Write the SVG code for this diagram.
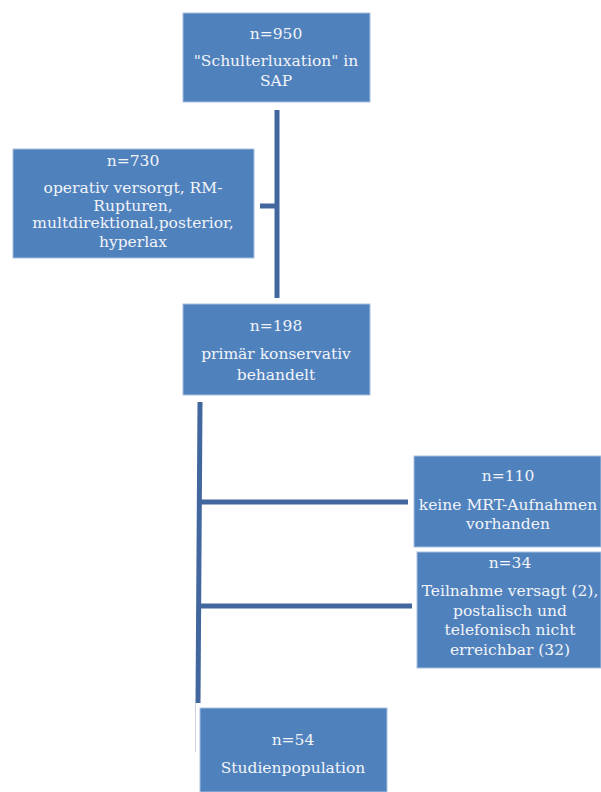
<svg xmlns="http://www.w3.org/2000/svg" width="601" height="792" viewBox="0 0 601 792">
<style>
.box{fill:#4F81BD;stroke:#A9C0DF;stroke-width:1}
.t{font-family:"DejaVu Serif","Liberation Serif",serif;font-size:15.5px;fill:#F2F4F8;text-anchor:middle}
.ln{stroke:#41679E;stroke-width:5;fill:none}
</style>
<rect width="601" height="792" fill="#fff"/>
<g id="connectors">
<line class="ln" x1="277" y1="110" x2="277" y2="298"/>
<line class="ln" x1="260" y1="206" x2="277" y2="206"/>
<line class="ln" x1="200" y1="402" x2="198" y2="703"/>
<line x1="195.5" y1="703" x2="195.5" y2="752" stroke="#C9D5E6" stroke-width="1"/>
<line class="ln" x1="200" y1="502" x2="408" y2="502"/>
<line class="ln" x1="200" y1="606" x2="412" y2="606"/>
</g>
<g id="n950">
<rect class="box" x="183" y="13" width="187" height="89"/>
<text class="t" x="276" y="39">n=950</text>
<text class="t" x="276" y="66">"Schulterluxation" in</text>
<text class="t" x="276" y="86">SAP</text>
</g>
<g id="n730">
<rect class="box" x="13" y="149" width="241" height="109"/>
<text class="t" x="133" y="166">n=730</text>
<text class="t" x="133" y="193">operativ versorgt, RM-</text>
<text class="t" x="133" y="211">Rupturen,</text>
<text class="t" x="133" y="228">multdirektional,posterior,</text>
<text class="t" x="133" y="247">hyperlax</text>
</g>
<g id="n198">
<rect class="box" x="183" y="304" width="187" height="91"/>
<text class="t" x="276" y="331">n=198</text>
<text class="t" x="276" y="359">primär konservativ</text>
<text class="t" x="276" y="380">behandelt</text>
</g>
<g id="n110">
<rect class="box" x="414" y="456" width="187" height="91"/>
<text class="t" x="508" y="481">n=110</text>
<text class="t" x="508" y="510">keine MRT-Aufnahmen</text>
<text class="t" x="508" y="529">vorhanden</text>
</g>
<g id="n34">
<rect class="box" x="417" y="552" width="184" height="116"/>
<text class="t" x="510" y="568">n=34</text>
<text class="t" x="510" y="596">Teilnahme versagt (2),</text>
<text class="t" x="510" y="616">postalisch und</text>
<text class="t" x="510" y="635">telefonisch nicht</text>
<text class="t" x="510" y="655">erreichbar (32)</text>
</g>
<g id="n54">
<rect class="box" x="200" y="708" width="187" height="84"/>
<text class="t" x="293" y="745">n=54</text>
<text class="t" x="293" y="773">Studienpopulation</text>
</g>
</svg>
